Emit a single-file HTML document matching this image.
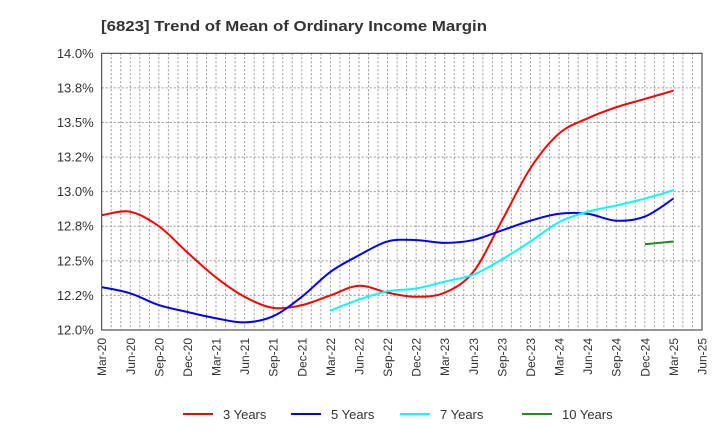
<!DOCTYPE html>
<html><head><meta charset="utf-8"><style>
body{margin:0;background:#fff;font-family:"Liberation Sans",sans-serif;}
</style></head><body>
<svg width="720" height="440" id="c" xmlns="http://www.w3.org/2000/svg" style="font-family:'Liberation Sans',sans-serif">
<text x="101" y="31" font-size="15" font-weight="bold" fill="#333" textLength="386" lengthAdjust="spacingAndGlyphs">[6823]  Trend of Mean of Ordinary Income Margin</text>
<g id="grid"></g><g id="series"></g><g id="axes"></g><g id="legend"></g>
</svg>
<script>
const xLabels=["Mar-20","Jun-20","Sep-20","Dec-20","Mar-21","Jun-21","Sep-21","Dec-21","Mar-22","Jun-22","Sep-22","Dec-22","Mar-23","Jun-23","Sep-23","Dec-23","Mar-24","Jun-24","Sep-24","Dec-24","Mar-25","Jun-25"];
const yTicks=[12.0,12.25,12.5,12.75,13.0,13.25,13.5,13.75,14.0];
const yTickLabels=["12.0%","12.2%","12.5%","12.8%","13.0%","13.2%","13.5%","13.8%","14.0%"];
const s3=[12.83,12.855,12.75,12.56,12.38,12.24,12.16,12.18,12.25,12.32,12.27,12.24,12.27,12.42,12.79,13.17,13.42,13.53,13.61,13.67,13.73];
const s5=[12.31,12.265,12.18,12.13,12.085,12.055,12.10,12.24,12.42,12.54,12.64,12.65,12.63,12.65,12.72,12.79,12.84,12.84,12.79,12.82,12.95];
const s7=[null,null,null,null,null,null,null,null,12.14,12.22,12.28,12.30,12.35,12.40,12.51,12.64,12.78,12.855,12.90,12.95,13.01];
const s10=[null,null,null,null,null,null,null,null,null,null,null,null,null,null,null,null,null,null,null,12.62,12.64];
const L=101.7,R=702,T=53.3,B=330;
const xs=i=>L+i*(R-L)/21, ys=v=>B-(v-12)/2*(B-T);
const NS="http://www.w3.org/2000/svg";
function mk(t,a,p){const e=document.createElementNS(NS,t);for(const k in a)e.setAttribute(k,a[k]);p.appendChild(e);return e;}
const g=document.getElementById('grid'),ax=document.getElementById('axes'),se=document.getElementById('series'),lg=document.getElementById('legend');
for(let m=1;m<63;m++){const x=L+m*(R-L)/63;const l=mk('line',{x1:x,x2:x,y1:T,y2:B,stroke:'#999','stroke-width':1,'stroke-dasharray':'2,2'},g);

}
yTicks.forEach((v,i)=>{const y=ys(v);if(i>0&&i<yTicks.length-1){const l=mk('line',{x1:L,x2:R,y1:y,y2:y,stroke:'#999','stroke-width':1,'stroke-dasharray':'2,2'},g);

}
const t=mk('text',{x:L-8,y:y+4.5,'text-anchor':'end','font-size':13,fill:'#333'},ax);t.textContent=yTickLabels[i];

});
const fr=mk('rect',{x:L,y:T,width:R-L,height:B-T,fill:'none',stroke:'#333','stroke-width':1},ax);


xLabels.forEach((s,i)=>{const x=xs(i);const t=mk('text',{x:0,y:0,transform:`translate(${x+4.5},338) rotate(-90)`,'text-anchor':'end','font-size':12,fill:'#333'},ax);t.textContent=s;

});
function path(arr){let pts=[];arr.forEach((v,i)=>{if(v!=null)pts.push([xs(i),ys(v)]);});
if(pts.length<3)return 'M'+pts.map(p=>p.join(',')).join('L');
let d='M'+pts[0].join(',');for(let i=0;i<pts.length-1;i++){const p0=pts[i-1]||pts[i],p1=pts[i],p2=pts[i+1],p3=pts[i+2]||p2;
d+=`C${p1[0]+(p2[0]-p0[0])/6},${p1[1]+(p2[1]-p0[1])/6} ${p2[0]-(p3[0]-p1[0])/6},${p2[1]-(p3[1]-p1[1])/6} ${p2[0]},${p2[1]}`;}return d;}
const series=[[s3,'#ff0000','3 Years','line-3-years'],[s5,'#0000ff','5 Years','line-5-years'],[s7,'#00ffff','7 Years','line-7-years'],[s10,'#228b22','10 Years','line-10-years']];
series.forEach(([a,c,n,id])=>{const p=mk('path',{d:path(a),fill:'none',stroke:c,'stroke-width':2},se);

});
const lx=[183,291,400,522];
series.forEach(([a,c,n],i)=>{const gg=mk('g',{},lg);


mk('line',{x1:lx[i],x2:lx[i]+30,y1:414,y2:414,stroke:c,'stroke-width':2},gg);
const t=mk('text',{x:lx[i]+40,y:419,'font-size':13,fill:'#333'},gg);t.textContent=n;});
</script>
</body></html>
